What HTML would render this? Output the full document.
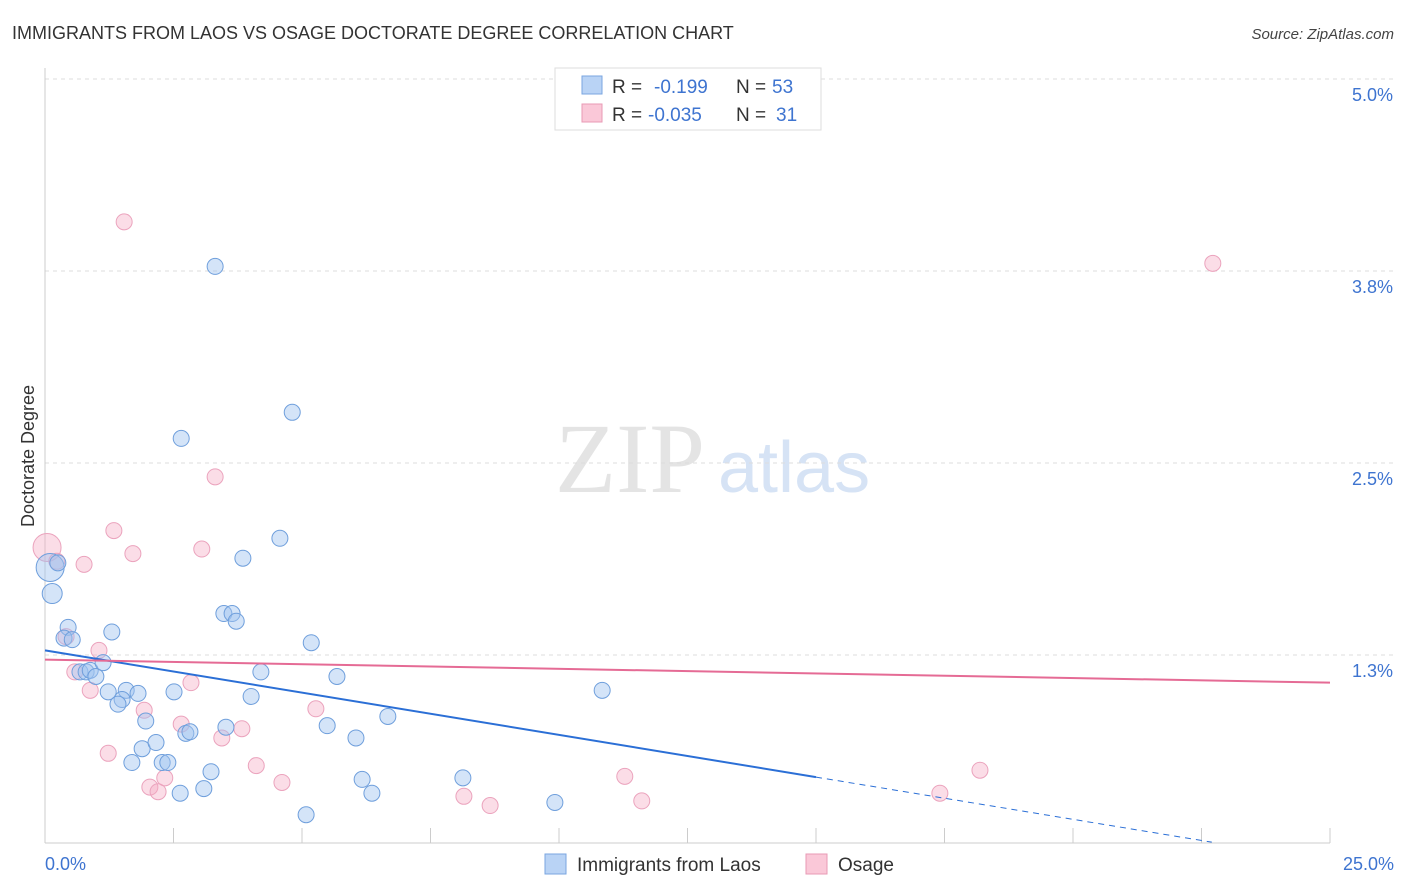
<!DOCTYPE html>
<html><head><meta charset="utf-8">
<style>
body{margin:0;background:#fff;font-family:"Liberation Sans",sans-serif;}
svg{display:block}
</style></head>
<body>
<svg id="chart" width="1406" height="892">
<text x="12" y="39" font-size="18" fill="#333">IMMIGRANTS FROM LAOS VS OSAGE DOCTORATE DEGREE CORRELATION CHART</text>
<text x="1394" y="39" font-size="15" fill="#444" font-style="italic" text-anchor="end">Source: ZipAtlas.com</text>
<text x="555" y="492" font-size="100" fill="#e4e4e4" font-family="Liberation Serif">ZIP</text>
<text x="718" y="492" font-size="72" fill="#d6e3f5">atlas</text>
<text transform="translate(34,456) rotate(-90)" font-size="18" fill="#333" text-anchor="middle">Doctorate Degree</text>
<g id="grid"></g><g id="pts"></g><g id="lines"></g>
<g>
<rect x="555" y="68" width="266" height="62" fill="#fff" stroke="#ddd"/>
<rect x="582" y="76" width="20" height="18" fill="#b9d3f5" stroke="#7aa6e0"/>
<rect x="582" y="104" width="20" height="18" fill="#fac8d8" stroke="#e89ab5"/>
<text x="612" y="93" font-size="19" fill="#333">R =</text>
<text x="654" y="93" font-size="19" fill="#3e74d0">-0.199</text>
<text x="736" y="93" font-size="19" fill="#333">N =</text>
<text x="772" y="93" font-size="19" fill="#3e74d0">53</text>
<text x="612" y="121" font-size="19" fill="#333">R =</text>
<text x="648" y="121" font-size="19" fill="#3e74d0">-0.035</text>
<text x="736" y="121" font-size="19" fill="#333">N =</text>
<text x="776" y="121" font-size="19" fill="#3e74d0">31</text>
</g>
<g>
<rect x="545" y="854" width="21" height="20" fill="#b9d3f5" stroke="#7aa6e0"/>
<text x="577" y="871" font-size="19" fill="#333">Immigrants from Laos</text>
<rect x="806" y="854" width="21" height="20" fill="#fac8d8" stroke="#e89ab5"/>
<text x="838" y="871" font-size="19" fill="#333">Osage</text>
</g>
</svg>
<script>
const xTickVals=[0,2.5,5,7.5,10,12.5,15,17.5,20,22.5,25];
const yTickVals=[1.25,2.5,3.75,5.0];
const yTickLabels=["1.3%","2.5%","3.8%","5.0%"];
const laosX=[0.10,0.14,0.25,0.45,0.37,0.53,0.68,0.80,0.88,0.99,1.13,1.30,1.23,1.58,1.50,1.42,1.81,1.96,1.89,2.16,1.69,2.28,2.39,2.63,2.51,2.65,2.74,2.82,3.09,3.23,3.31,3.52,3.48,3.64,3.72,4.01,3.85,4.20,4.57,4.81,5.08,5.18,5.49,5.68,6.05,6.17,6.36,6.67,8.13,9.92,10.84];
const laosY=[1.82,1.65,1.85,1.43,1.36,1.35,1.14,1.14,1.15,1.11,1.20,1.40,1.01,1.02,0.96,0.93,1.00,0.82,0.64,0.68,0.55,0.55,0.55,0.35,1.01,2.66,0.74,0.75,0.38,0.49,3.78,0.78,1.52,1.52,1.47,0.98,1.88,1.14,2.01,2.83,0.21,1.33,0.79,1.11,0.71,0.44,0.35,0.85,0.45,0.29,1.02];
const osageX=[0.04,0.23,0.76,1.54,1.34,1.71,3.05,3.31,0.41,1.05,0.58,0.88,2.84,1.93,1.23,2.04,2.20,2.33,2.65,3.44,3.83,4.11,4.61,5.27,8.15,8.66,11.28,11.61,17.41,18.19,22.72];
const osageY=[1.95,1.86,1.84,4.07,2.06,1.91,1.94,2.41,1.37,1.28,1.14,1.02,1.07,0.89,0.61,0.39,0.36,0.45,0.80,0.71,0.77,0.53,0.42,0.90,0.33,0.27,0.46,0.30,0.35,0.50,3.80];
const laosTrend=[1.28,-0.055];
const osageTrend=[1.22,-0.006];
(function(){
const X0=45,X1=1330,Y0=847,PPU=153.6;
const sx=v=>X0+(X1-X0)*v/25, sy=v=>Y0-v*PPU;
const NS="http://www.w3.org/2000/svg";
function mk(t,a,p){const e=document.createElementNS(NS,t);for(const k in a)e.setAttribute(k,a[k]);p.appendChild(e);return e;}
const grid=document.getElementById('grid'),pts=document.getElementById('pts'),lines=document.getElementById('lines');
const topLine=mk('line',{x1:45,x2:1394,y1:79,y2:79,stroke:'#ddd','stroke-dasharray':'4,4'},grid);


yTickVals.forEach((v,i)=>{
 const l=mk('line',{x1:45,x2:1394,y1:sy(v),y2:sy(v),stroke:'#ddd','stroke-dasharray':'4,4'},grid);
 
 
 const t=mk('text',{x:1393,y:sy(v)+22,'font-size':18,fill:'#3e74d0','text-anchor':'end'},grid);
 t.textContent=yTickLabels[i];
 
 
});
const ax=mk('line',{x1:45,x2:1330,y1:843,y2:843,stroke:'#ccc'},grid);


const ay=mk('line',{x1:45,x2:45,y1:68,y2:843,stroke:'#ccc'},grid);


xTickVals.forEach(v=>{
 const l=mk('line',{x1:sx(v),x2:sx(v),y1:828,y2:843,stroke:'#ccc'},grid);
 
 
});
const xl0=mk('text',{x:45,y:870,'font-size':18,fill:'#3e74d0'},grid);xl0.textContent='0.0%';


const xl1=mk('text',{x:1394,y:870,'font-size':18,fill:'#3e74d0','text-anchor':'end'},grid);xl1.textContent='25.0%';


osageX.forEach((x,i)=>{
 const c=mk('circle',{cx:sx(x),cy:sy(osageY[i]),r:i==0?14:8,fill:'rgba(246,170,196,0.4)',stroke:'#eba3bd','stroke-width':1},pts);
 
 
});
laosX.forEach((x,i)=>{
 const c=mk('circle',{cx:sx(x),cy:sy(laosY[i]),r:i==0?14:(i==1?10:8),fill:'rgba(160,196,240,0.45)',stroke:'#6f9fdc','stroke-width':1},pts);
 
 
});
const bl=mk('line',{x1:sx(0),y1:sy(laosTrend[0]),x2:sx(15),y2:sy(laosTrend[0]+15*laosTrend[1]),stroke:'#2b6fd6','stroke-width':2},lines);


const bd=mk('line',{x1:sx(15),y1:sy(laosTrend[0]+15*laosTrend[1]),x2:sx(22.7),y2:sy(laosTrend[0]+22.7*laosTrend[1]),stroke:'#2b6fd6','stroke-width':1,'stroke-dasharray':'6,5'},lines);


const pl=mk('line',{x1:sx(0),y1:sy(osageTrend[0]),x2:sx(25),y2:sy(osageTrend[0]+25*osageTrend[1]),stroke:'#e56b95','stroke-width':2},lines);


})();
</script>
</body></html>
